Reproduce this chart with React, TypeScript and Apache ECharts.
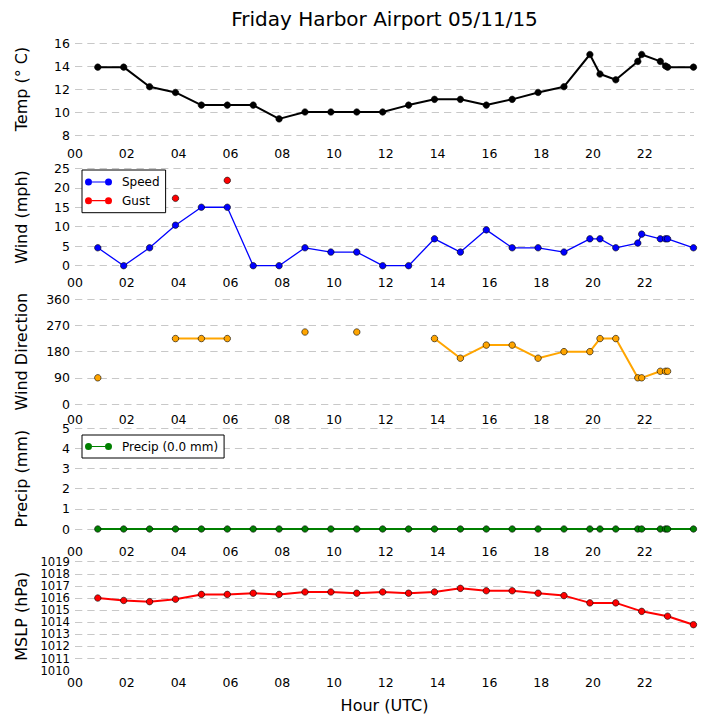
import React, { useEffect, useRef } from "react";
import * as echarts from "echarts";

// observation times (fractional hours UTC)
const times = [
  0.88, 1.88, 2.88, 3.88, 4.88, 5.88, 6.88, 7.88, 8.88, 9.88, 10.88, 11.88, 12.88, 13.88,
  14.88, 15.88, 16.88, 17.88, 18.88, 19.88, 20.27, 20.88, 21.73, 21.88, 22.6, 22.8, 22.88, 23.88,
];
const tempC = [
  13.9, 13.9, 12.2, 11.7, 10.6, 10.6, 10.6, 9.4, 10.0, 10.0, 10.0, 10.0, 10.6, 11.1,
  11.1, 10.6, 11.1, 11.7, 12.2, 15.0, 13.3, 12.8, 14.4, 15.0, 14.4, 14.0, 13.9, 13.9,
];
const windSpeed = [
  4.6, 0, 4.6, 10.4, 15.0, 15.0, 0, 0, 4.6, 3.5, 3.5, 0, 0, 6.9,
  3.5, 9.2, 4.6, 4.6, 3.5, 6.9, 6.9, 4.6, 5.8, 8.1, 6.9, 6.9, 6.9, 4.6,
];
const windGust = [
  null, null, null, 17.3, null, 21.9, null, null, null, null, null, null, null, null,
  null, null, null, null, null, null, null, null, null, null, null, null, null, null,
];
const windDir = [
  90, null, null, 225, 225, 225, null, null, 247.5, null, 247.5, null, null, 225,
  157.5, 202.5, 202.5, 157.5, 180, 180, 225, 225, 90, 90, 112.5, 112.5, 112.5, null,
];
const precip = [
  0, 0, 0, 0, 0, 0, 0, 0, 0, 0, 0, 0, 0, 0,
  0, 0, 0, 0, 0, 0, 0, 0, 0, 0, 0, 0, 0, 0,
];
const mslp = [
  1016.0, 1015.8, 1015.7, 1015.9, 1016.3, 1016.3, 1016.4, 1016.3, 1016.5, 1016.5, 1016.4, 1016.5, 1016.4, 1016.5,
  1016.8, 1016.6, 1016.6, 1016.4, 1016.2, 1015.6, null, 1015.6, null, 1014.9, null, null, 1014.5, 1013.8,
];
const hourTicks = ["00", "02", "04", "06", "08", "10", "12", "14", "16", "18", "20", "22"];

const FONT = "DejaVu Sans";

function pts(vals: (number | null)[]) {
  return times.map((t, i) => [t, vals[i] === null ? "-" : vals[i]]);
}

const legendIcon =
  "path://M0,3.5a3.5,3.5 0 1,0 7,0a3.5,3.5 0 1,0 -7,0zM20,3.5a3.5,3.5 0 1,0 7,0a3.5,3.5 0 1,0 -7,0zM7,2.9h13v1.2h-13z";

export default function App() {
  const ref = useRef<HTMLDivElement>(null);
  useEffect(() => {
    if (!ref.current) return;
    const chart = echarts.init(ref.current, undefined, { renderer: "svg" });

    const panels = [
      { top: 43, height: 92, min: 8, max: 16, interval: 2, name: "Temp (° C)", lblMargin: 12.5, fs: 12.5, lh: 12 },
      { top: 168.3, height: 97.4, min: 0, max: 25, interval: 5, name: "Wind (mph)", lblMargin: 10.8, fs: 12.5, lh: 12 },
      { top: 299.3, height: 104.7, min: 0, max: 360, interval: 90, name: "Wind Direction", lblMargin: 9.5, fs: 12.5, lh: 12 },
      { top: 428.3, height: 100.7, min: 0, max: 5, interval: 1, name: "Precip (mm)", lblMargin: 16, fs: 12.5, lh: 12 },
      { top: 561.7, height: 109, min: 1010, max: 1019, interval: 1, name: "MSLP (hPa)", lblMargin: 5.8, fs: 11.6, lh: 10.5 },
    ];

    const grid = panels.map((p) => ({ left: 75, width: 619, top: p.top, height: p.height }));
    const xAxis = panels.map((p, i) => ({
      type: "value",
      gridIndex: i,
      min: 0,
      max: 23.9,
      interval: 2,
      axisLine: { show: false },
      axisTick: { show: false },
      splitLine: { show: false },
      name: i === 4 ? "Hour (UTC)" : "",
      nameLocation: "middle",
      nameGap: 27,
      nameTextStyle: { fontFamily: FONT, fontSize: 16, color: "#000" },
      axisLabel: {
        margin: p.lblMargin,
        fontFamily: FONT,
        fontSize: 12.5,
        lineHeight: 12,
        color: "#000",
        showMaxLabel: false,
        formatter: (v: number) => {
          const idx = Math.round(v / 2);
          return Math.abs(v - idx * 2) < 1e-6 && idx < hourTicks.length ? hourTicks[idx] : "";
        },
      },
    }));
    const yAxis = panels.map((p, i) => ({
      type: "value",
      gridIndex: i,
      min: p.min,
      max: p.max,
      interval: p.interval,
      name: p.name,
      nameLocation: "middle",
      nameGap: 46,
      nameTextStyle: { fontFamily: FONT, fontSize: 16, color: "#000" },
      axisLine: { show: false },
      axisTick: { show: false },
      axisLabel: {
        margin: 5,
        fontFamily: FONT,
        fontSize: p.fs,
        lineHeight: p.lh,
        color: "#000",
        showMinLabel: true,
        showMaxLabel: true,
        hideOverlap: false,
        formatter: (v: number) => String(v),
      },
      splitLine: {
        show: true,
        showMinLine: i !== 4,
        lineStyle: { color: "#c8c8c8", width: 1, type: [7.3, 5] },
      },
    }));

    const mk = (
      name: string,
      idx: number,
      vals: (number | null)[],
      color: string,
      lw: number,
      z = 2
    ) => ({
      type: "line",
      name,
      xAxisIndex: idx,
      yAxisIndex: idx,
      data: pts(vals),
      symbol: "circle",
      symbolSize: 6.5,
      showSymbol: true,
      connectNulls: false,
      clip: false,
      z,
      lineStyle: { color, width: lw },
      itemStyle: { color, borderColor: "#000", borderWidth: 0.6 },
      emphasis: { disabled: true },
    });

    const mslpSeries = mk("MSLP", 4, mslp, "#ff0000", 2);
    (mslpSeries as any).connectNulls = true;

    const legendCommon = {
      orient: "vertical",
      left: 82,
      icon: legendIcon,
      itemWidth: 27,
      itemHeight: 7,
      itemGap: 4.7,
      selectedMode: false,
      borderColor: "#000",
      borderWidth: 1,
      borderRadius: 0,
      backgroundColor: "#fff",
      itemStyle: { borderWidth: 0 },
      textStyle: {
        fontFamily: FONT,
        fontSize: 12,
        color: "#000",
        lineHeight: 14,
        padding: [0, 0, 0, 5],
      },
    };

    chart.setOption({
      animation: false,
      backgroundColor: "#fff",
      title: {
        text: "Friday Harbor Airport 05/11/15",
        left: 384.5,
        textAlign: "center",
        top: 9,
        padding: 0,
        textStyle: { fontFamily: FONT, fontSize: 20, fontWeight: "normal", color: "#000" },
      },
      legend: [
        { ...legendCommon, top: 170, padding: [5, 6, 5, 3], data: ["Speed", "Gust"] },
        { ...legendCommon, top: 435, padding: [4.5, 6, 4.5, 3], data: ["Precip (0.0 mm)"] },
      ],
      grid,
      xAxis,
      yAxis,
      series: [
        mk("Temp", 0, tempC, "#000000", 2),
        mk("Gust", 1, windGust, "#ff0000", 1.5),
        mk("Speed", 1, windSpeed, "#0000ff", 1.3, 3),
        mk("Direction", 2, windDir, "#ffa500", 2),
        mk("Precip (0.0 mm)", 3, precip, "#008000", 2),
        mslpSeries,
      ],
    });
    return () => chart.dispose();
  }, []);
  return (
    <div
      ref={ref}
      style={{ position: "fixed", left: 0, top: 0, width: 705, height: 726 }}
    />
  );
}
